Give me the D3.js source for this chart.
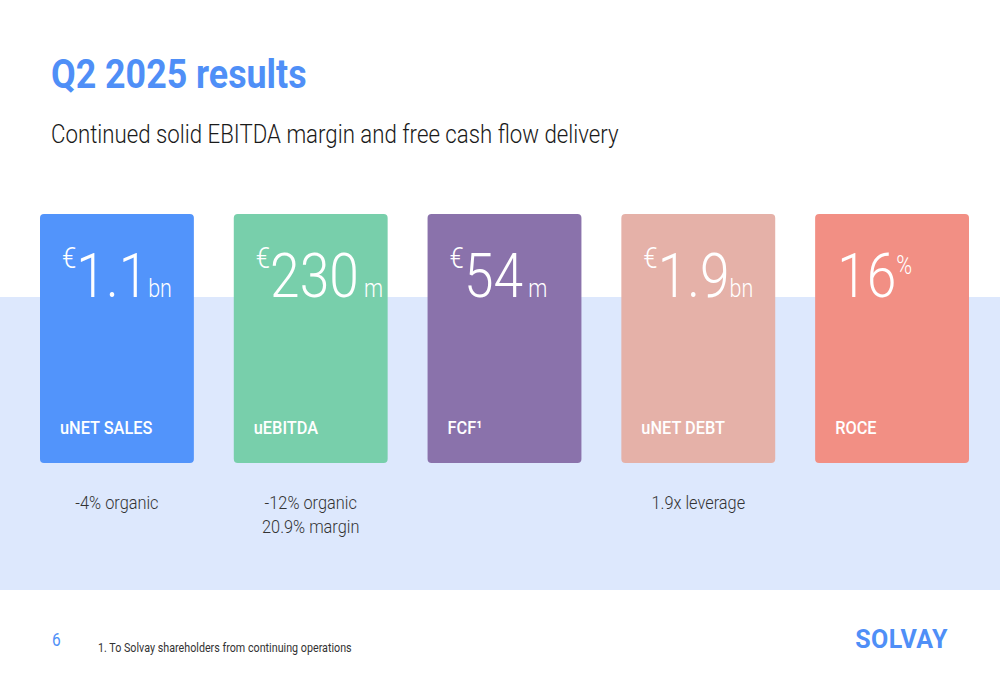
<!DOCTYPE html>
<html><head><meta charset="utf-8">
<script src="https://cdn.jsdelivr.net/npm/d3@7"></script>
<style>body{margin:0;background:#fff}svg{font-family:Roboto,sans-serif;display:block}</style>
</head><body><div id="chart"></div>
<script>
const labels = ["uNET SALES", "uEBITDA", "FCF¹", "uNET DEBT", "ROCE"];
const prefixes = ["€", "€", "€", "€", ""];
const values = ["1.1", "230", "54", "1.9", "16"];
const units = ["bn", " m", " m", "bn", "%"];
const notes = [["-4% organic"], ["-12% organic", "20.9% margin"], [], ["1.9x leverage"], []];
const colors = ["#5294fb", "#78cfab", "#8a72ab", "#e5b1a8", "#f28f84"];

const W = 1000, H = 685;
const SX = 0.86; // condensed look
const svg = d3.select("#chart").append("svg").attr("width", W).attr("height", H);

function ctext(parent, x, y, sx) {
  return parent.append("text").attr("transform", `translate(${x},${y}) scale(${sx || SX},1)`);
}

svg.append("rect").attr("x", 0).attr("y", 297).attr("width", W).attr("height", 293).attr("fill", "#dde8fd");

ctext(svg, 51, 88, 0.895).attr("font-size", 40).attr("font-weight", 700)
  .attr("fill", "#4f8ff7").text("Q2 2025 results");
ctext(svg, 51, 143, 0.89).attr("font-size", 25).attr("font-weight", 300)
  .attr("fill", "#1a1a1a").text("Continued solid EBITDA margin and free cash flow delivery");

const x = d3.scaleBand().domain(labels).range([40, 969]).paddingInner(0.206);
const cardTop = 214, cardH = 249;

const g = svg.selectAll(".card").data(labels).enter().append("g")
  .attr("transform", d => `translate(${x(d)},${cardTop})`);
g.append("rect").attr("width", x.bandwidth()).attr("height", cardH).attr("rx", 4)
  .attr("fill", (d, i) => colors[i]);

g.each(function (d, i) {
  const t = ctext(d3.select(this), 22, 0).attr("fill", "#fff").attr("font-weight", 300)
    .attr("xml:space", "preserve");
  if (prefixes[i]) t.append("tspan").attr("y", 54).attr("font-size", 30).text(prefixes[i]);
  t.append("tspan").attr("y", 83).attr("font-size", 62).text(values[i]);
  t.append("tspan").attr("y", units[i] === "%" ? 60 : 83).attr("font-size", 25).text(units[i]);
  ctext(d3.select(this), 20, 220).attr("fill", "#fff").attr("font-size", 19)
    .attr("font-weight", 500).text(d);
});

labels.forEach((l, i) => {
  notes[i].forEach((n, j) => {
    ctext(svg, x(l) + x.bandwidth() / 2, 509 + j * 24)
      .attr("text-anchor", "middle").attr("font-size", 19).attr("font-weight", 300)
      .attr("fill", "#333").text(n);
  });
});

ctext(svg, 52, 646).attr("font-size", 18).attr("fill", "#4f8ff7").text("6");
ctext(svg, 98, 652).attr("font-size", 12.5).attr("fill", "#333")
  .text("1. To Solvay shareholders from continuing operations");
svg.append("text").attr("x", 948).attr("y", 648).attr("text-anchor", "end").attr("font-size", 25)
  .attr("font-weight", 700).attr("fill", "#4f8ff7").attr("letter-spacing", 0.5).text("SOLVAY");
</script></body></html>
